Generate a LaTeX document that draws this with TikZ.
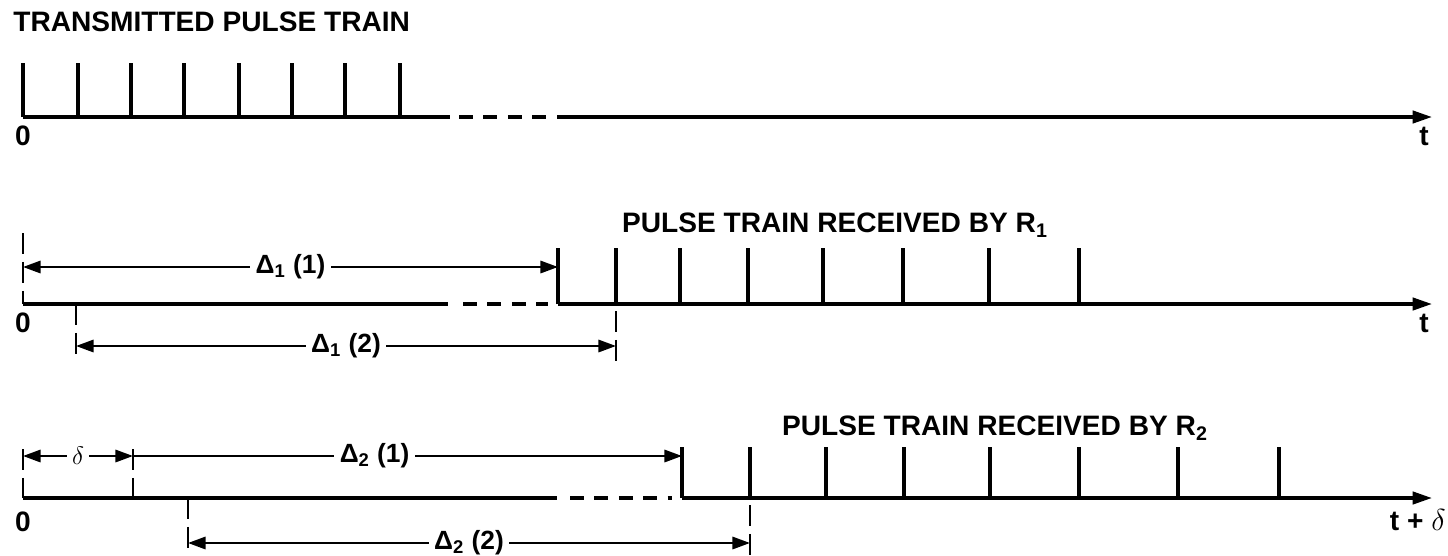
\documentclass[tikz,border=0pt]{standalone}
\usepackage{fontspec}
\setmainfont{Liberation Sans}
\usetikzlibrary{arrows.meta}

\begin{document}
\begin{tikzpicture}[
  x=0.02cm, y=-0.02cm,
  every node/.style={inner sep=0pt, font=\fontsize{16}{19}\selectfont\bfseries},
  heading/.style={font=\fontsize{16}{19}\selectfont\bfseries},
  dimlabel/.style={fill=white, inner xsep=3pt, inner ysep=1pt, font=\fontsize{15}{18}\selectfont\bfseries},
  pulse/.style={line width=1.9pt},
  axis/.style={line width=1.9pt, -{Triangle[length=11pt,width=7pt]}},
  gap/.style={line width=1.9pt, dash pattern=on 7.9pt off 6pt},
  extline/.style={line width=1.5pt, dash pattern=on 12pt off 4.5pt},
  dim/.style={line width=1.3pt, {Triangle[length=10pt,width=7pt]}-{Triangle[length=10pt,width=7pt]}},
  dimto/.style={line width=1.3pt, -{Triangle[length=10pt,width=7pt]}}
]
\useasboundingbox (0,0) rectangle (1448,555);

%% Row 1: transmitted train
\node[heading, anchor=west] (txhead) at (13,22) {TRANSMITTED PULSE TRAIN};
\foreach \x in {23,78,131,184,239,292,345,400}
  \draw[pulse] (\x,117) -- (\x,63);
\coordinate (txstart) at (23,117);
\coordinate (txcut) at (450,117);
\coordinate (txgap) at (459,117);
\coordinate (txgapend) at (548,117);
\coordinate (txresume) at (557,117);
\coordinate (txtip) at (1432,117);
\draw[pulse] (txstart) -- (txcut);
\draw[gap] (txgap) -- (txgapend);
\draw[axis] (txresume) -- (txtip);
\node (txzero) at (23,136) {0};
\node (txt) at (1424,136) {t};

%% Row 2: received by R1
\node[heading] (rxahead) at (835,225) {PULSE TRAIN RECEIVED BY R\textsubscript{1}};
\foreach \x in {558,616,680,748,823,903,989,1079}
  \draw[pulse] (\x,304) -- (\x,248);
\coordinate (rxastart) at (23,304);
\coordinate (rxacut) at (448,304);
\coordinate (rxagap) at (463,304);
\coordinate (rxagapend) at (548,304);
\coordinate (rxafirst) at (558,304);
\coordinate (rxatip) at (1432,304);
\draw[pulse] (rxastart) -- (rxacut);
\draw[gap] (rxagap) -- (rxagapend);
\draw[axis] (rxafirst) -- (rxatip);

% extension lines
\coordinate (rxamark) at (23,233);
\draw[extline] (rxamark) -- (rxastart);
\coordinate (rxbtop) at (76,304);
\coordinate (rxbbot) at (76,358);
\draw[extline] (rxbtop) -- (rxbbot);
\coordinate (rxctop) at (616,311);
\coordinate (rxcbot) at (616,363);
\draw[extline] (rxctop) -- (rxcbot);

% delays
\coordinate (d11l) at (23,267);
\coordinate (d11r) at (558,267);
\draw[dim] (d11l) -- node[dimlabel] {Δ\textsubscript{1} (1)} (d11r);
\coordinate (d12l) at (76,346);
\coordinate (d12r) at (616,346);
\draw[dim] (d12l) -- node[dimlabel] {Δ\textsubscript{1} (2)} (d12r);

\node (rxazero) at (23,323) {0};
\node (rxat) at (1424,323) {t};

%% Row 3: received by R2
\node[heading] (rxbhead) at (995,428) {PULSE TRAIN RECEIVED BY R\textsubscript{2}};
\foreach \x in {682,750,826,904,990,1079,1178,1279}
  \draw[pulse] (\x,498) -- (\x,447);
\coordinate (rxbstart) at (23,498);
\coordinate (rxbcut) at (557,498);
\coordinate (rxbgap) at (570,498);
\coordinate (rxbgapend) at (672,498);
\coordinate (rxbfirst) at (682,498);
\coordinate (rxbtip) at (1432,498);
\draw[pulse] (rxbstart) -- (rxbcut);
\draw[gap] (rxbgap) -- (rxbgapend);
\draw[axis] (rxbfirst) -- (rxbtip);

% extension lines
\coordinate (ea) at (23,449);
\draw[extline] (ea) -- (rxbstart);
\coordinate (eb) at (133,449);
\coordinate (ebb) at (133,498);
\draw[extline] (eb) -- (ebb);
\coordinate (ec) at (188,498);
\coordinate (ecb) at (188,555);
\draw[extline] (ec) -- (ecb);
\coordinate (ed) at (750,505);
\coordinate (edb) at (750,555);
\draw[extline] (ed) -- (edb);

% delays
\coordinate (dl) at (23,456);
\coordinate (dr) at (133,456);
\draw[dim] (dl) -- node[dimlabel] {$\delta$} (dr);
\coordinate (d21r) at (682,456);
\draw[dimto] (dr) -- node[dimlabel, pos=0.44] {Δ\textsubscript{2} (1)} (d21r);
\coordinate (d22l) at (188,543);
\coordinate (d22r) at (750,543);
\draw[dim] (d22l) -- node[dimlabel] {Δ\textsubscript{2} (2)} (d22r);

\node (rxbzero) at (23,522) {0};
\node[anchor=east] (rxbt) at (1446,520) {t + $\delta$};

\end{tikzpicture}
\end{document}
